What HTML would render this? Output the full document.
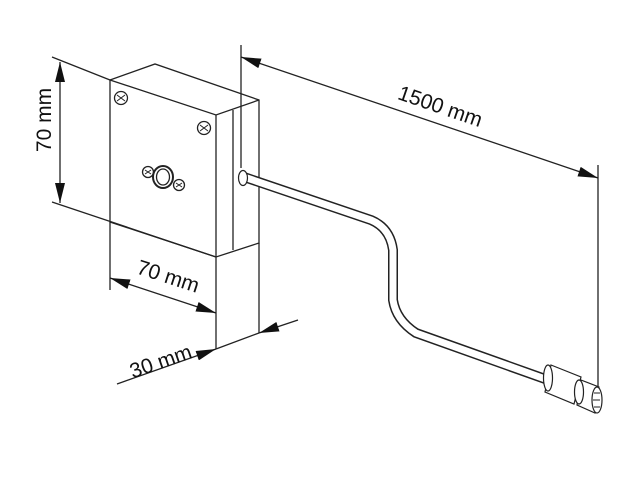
<!DOCTYPE html>
<html><head><meta charset="utf-8"><style>html,body{margin:0;padding:0;background:#fff}svg{display:block}text{font-family:"Liberation Sans",Arial,sans-serif;font-size:21px;fill:#111}</style></head>
<body>
<svg width="640" height="480" viewBox="0 0 640 480" xmlns="http://www.w3.org/2000/svg">
<defs>
<marker id="a" viewBox="0 0 20 10" refX="20" refY="5" markerWidth="20" markerHeight="10" markerUnits="userSpaceOnUse" orient="auto-start-reverse"><path d="M0,0 L20,5 L0,10 Z" fill="#111"/></marker>
</defs>
<g stroke="#222" stroke-width="1.3" fill="none">
<path d="M110,80 L155,64 L259,100 L259,243 L216,257 L110,222 Z" fill="#fff"/>
<path d="M110,80 L216,115 L259,100"/>
<line x1="216" y1="115" x2="216" y2="349"/>
<line x1="233" y1="110" x2="233" y2="250"/>
<line x1="259" y1="243" x2="259" y2="333"/>
<line x1="110" y1="222" x2="110" y2="290"/>
<circle cx="121" cy="98" r="6.5"/><path d="M117,95 l8,6 M125,95 l-8,6" stroke-width="1"/>
<circle cx="204" cy="128" r="6.5"/><path d="M200,125 l8,6 M208,125 l-8,6" stroke-width="1"/>
<ellipse cx="163" cy="177" rx="10" ry="11" stroke-width="2"/>
<ellipse cx="163" cy="177" rx="6.5" ry="8"/>
<circle cx="148" cy="172" r="5.5"/><path d="M145,170 l6,4 M151,170 l-6,4" stroke-width="1"/>
<circle cx="179" cy="185" r="5.5"/><path d="M176,183 l6,4 M182,183 l-6,4" stroke-width="1"/>
<line x1="52" y1="57" x2="110" y2="80"/>
<line x1="52" y1="202" x2="216" y2="257"/>
<line x1="60" y1="62" x2="60" y2="203" marker-start="url(#a)" marker-end="url(#a)"/>
<line x1="110" y1="278" x2="216" y2="313" marker-start="url(#a)" marker-end="url(#a)"/>
<line x1="117" y1="384" x2="216" y2="349" marker-end="url(#a)"/>
<line x1="216" y1="349" x2="259" y2="333"/>
<line x1="298" y1="320" x2="259" y2="333" marker-end="url(#a)"/>
<line x1="241" y1="45" x2="241" y2="168"/>
<line x1="598" y1="165" x2="598" y2="395"/>
<line x1="241" y1="57" x2="598" y2="178" marker-start="url(#a)" marker-end="url(#a)"/>
</g>
<path d="M244,177 L371,220 Q390,228 393,250 L393,300 Q396,320 416,333 L548,380" stroke="#222" stroke-width="10" fill="none"/>
<path d="M244,177 L371,220 Q390,228 393,250 L393,300 Q396,320 416,333 L548,380" stroke="#fff" stroke-width="7" fill="none"/>
<g stroke="#222" stroke-width="1.2" fill="#fff">
<ellipse cx="243" cy="178" rx="4.5" ry="7.5"/>
<path d="M551,365 L581,377 L574,404 L545,392 Z"/>
<ellipse cx="548" cy="378" rx="4.5" ry="13"/>
<path d="M581,380 L599,387 L595,413 L577,405 Z"/>
<ellipse cx="579" cy="392" rx="4.5" ry="12"/>
<ellipse cx="597" cy="400" rx="5" ry="13"/>
<path d="M594,393 h6 M593,400 h7 M594,407 h6" stroke-width="1"/>
</g>
<text transform="translate(51,120) rotate(-90)" text-anchor="middle">70 mm</text>
<text transform="translate(166,283) rotate(18)" text-anchor="middle">70 mm</text>
<text transform="translate(163,368) rotate(-19)" text-anchor="middle">30 mm</text>
<text transform="translate(438,113) rotate(19)" text-anchor="middle">1500 mm</text>
</svg>
</body></html>
